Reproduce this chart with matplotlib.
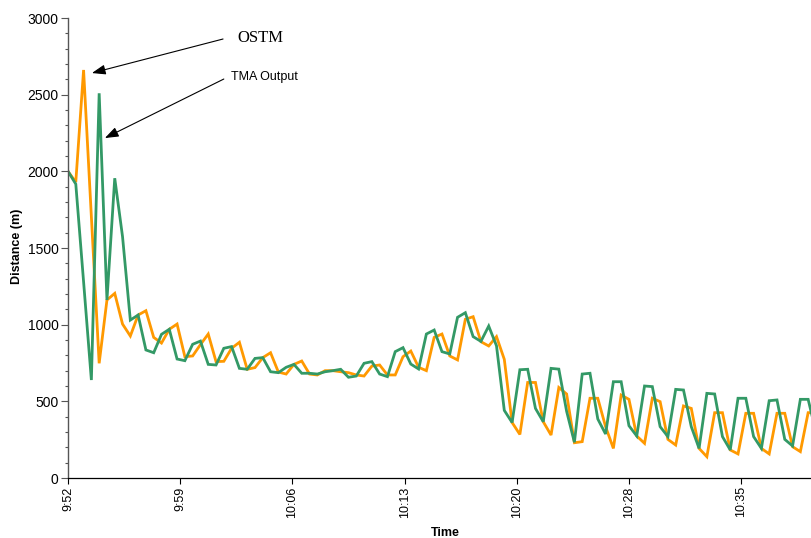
import numpy as np
import matplotlib
matplotlib.use("Agg")
import matplotlib.pyplot as plt
from matplotlib.ticker import MultipleLocator, FuncFormatter

# 30 s samples starting at 9:52:00
start_s = 9 * 3600 + 52 * 60
step_s = 30

tma = [2000, 1917, 1280, 639, 2509, 1161, 1955, 1574, 1030, 1063,
       835, 817, 937, 970, 776, 765, 872, 893, 741, 737,
       846, 857, 715, 709, 780, 785, 693, 687, 722, 741,
       683, 683, 678, 693, 700, 709, 657, 665, 748, 759,
       678, 661, 824, 850, 743, 711, 939, 965, 824, 809,
       1048, 1078, 922, 891, 991, 862, 441, 362, 706, 709,
       454, 367, 715, 710, 435, 233, 678, 683, 385, 287,
       628, 628, 341, 274, 600, 596, 335, 270, 578, 574,
       335, 193, 552, 548, 270, 183, 520, 520, 270, 193,
       504, 509, 252, 209, 513, 513, 300]

ostm = [2000, 1930, 2661, 1704, 748, 1161, 1204, 1004, 926, 1063,
        1091, 917, 880, 970, 1004, 791, 796, 870, 939, 759,
        761, 846, 885, 709, 720, 785, 817, 691, 678, 741,
        763, 678, 672, 700, 700, 693, 687, 672, 665, 730,
        737, 672, 672, 791, 828, 722, 700, 917, 939, 796,
        770, 1035, 1052, 889, 861, 922, 774, 362, 284, 623,
        623, 367, 280, 590, 548, 230, 237, 520, 520, 335,
        193, 541, 513, 274, 226, 520, 498, 252, 215, 470,
        454, 193, 139, 426, 426, 183, 157, 422, 422, 193,
        157, 422, 422, 204, 172, 426, 426]

t = np.arange(len(tma)) * step_s


def fmt_time(x, pos):
    total_min = int((start_s + x) // 60)
    h, m = divmod(total_min, 60)
    return "%d:%02d" % (h, m)


plt.rcParams['font.family'] = ['Liberation Sans', 'DejaVu Sans']

fig = plt.figure(figsize=(8.11, 5.38), dpi=100)
ax = fig.add_axes([68 / 811, 60 / 538, 743 / 811, 460 / 538])

ax.plot(t, ostm, color='#FF9900', lw=2.0, solid_joinstyle='miter')
ax.plot(t, tma, color='#339966', lw=2.0, solid_joinstyle='miter')

ax.set_xlim(0, 2861)
ax.set_ylim(0, 3000)

ax.xaxis.set_major_locator(MultipleLocator(432))
ax.xaxis.set_major_formatter(FuncFormatter(fmt_time))
ax.yaxis.set_major_locator(MultipleLocator(500))
ax.yaxis.set_minor_locator(MultipleLocator(100))

ax.tick_params(axis='x', direction='out', length=4, width=0.8,
               labelsize=9, labelrotation=90, pad=2)
ax.tick_params(axis='y', which='major', direction='out', length=4.8,
               width=0.8, labelsize=10, pad=2, color='#555555')
ax.tick_params(axis='y', which='minor', direction='out', length=2.4,
               width=0.8, color='#555555')

for side in ('top', 'right'):
    ax.spines[side].set_visible(False)
ax.spines['left'].set_color('#555555')
ax.spines['left'].set_linewidth(1.0)
ax.spines['bottom'].set_color('black')
ax.spines['bottom'].set_linewidth(0.9)

fig.text(17 / 811, 1 - 246 / 538, 'Distance (m)', rotation=90,
         ha='center', va='center', fontsize=9, fontweight='bold')
fig.text(445 / 811, 1 - 533 / 538, 'Time', ha='center', va='center',
         fontsize=9, fontweight='bold')

# callouts pointing at the two series
arrow = dict(arrowstyle='-|>,head_length=0.55,head_width=0.2',
             color='black', lw=0.8, mutation_scale=15,
             shrinkA=0, shrinkB=0)
ax.annotate('', xy=(92, 2641), xytext=(597, 2863), arrowprops=arrow,
            annotation_clip=False)
ax.annotate('', xy=(142, 2217), xytext=(600, 2602), arrowprops=arrow,
            annotation_clip=False)
ax.text(651, 2870, 'OSTM', ha='left', va='center', fontsize=12,
        family=['Liberation Serif', 'DejaVu Serif'])
ax.text(628, 2615, 'TMA Output', ha='left', va='center', fontsize=9)

fig.savefig('out.png', dpi=100)
